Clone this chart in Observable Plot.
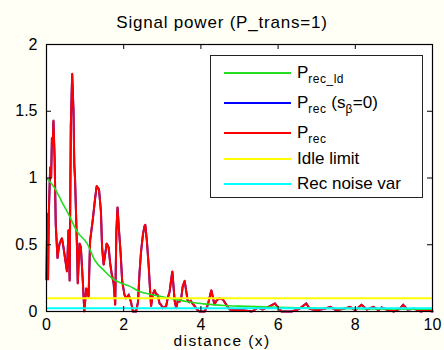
<!DOCTYPE html>
<html>
<head>
<meta charset="utf-8">
<script src="https://cdn.jsdelivr.net/npm/d3@7"></script>
<script src="https://cdn.jsdelivr.net/npm/@observablehq/plot@0.6"></script>
<style>
  html, body { margin: 0; padding: 0; background: #fffff6; }
  #wrap { position: relative; width: 444px; height: 350px; font-family: "Liberation Sans", Arial, sans-serif; color: #000; }
  #wrap svg { position: absolute; left: 0; top: 0; }
  .title { position: absolute; left: 0; width: 444px; top: 13px; text-align: center; font-size: 17px; line-height: 20px; letter-spacing: 0.8px; }
  .xlabel { position: absolute; left: 0; width: 444px; top: 334px; text-align: center; font-size: 15.5px; line-height: 14px; letter-spacing: 1.4px; }
  .legend { position: absolute; left: 210px; top: 55px; width: 213px; height: 143px; box-sizing: border-box; border: 1px solid #222; background: #fff; }
  .legend .ln { position: absolute; left: 13px; width: 67px; height: 0; }
  .legend .tx { position: absolute; left: 86px; font-size: 17px; line-height: 20px; white-space: nowrap; }
  .legend sub { font-size: 12px; line-height: 0; vertical-align: -5px; letter-spacing: 0.5px; }
</style>
</head>
<body>
<div id="wrap"></div>
<script>
// ---- data ----
const titleText = "Signal power (P_trans=1)";
const xLabel = "distance (x)";
const xTicks = [0, 2, 4, 6, 8, 10];
const yTicks = [0, 0.5, 1, 1.5, 2];

// P_rec (red) and P_rec (s_beta = 0) (blue, hidden under red almost everywhere)
const distance = [0, 0.02, 0.04, 0.06, 0.095, 0.12, 0.14, 0.16, 0.18, 0.21, 0.24, 0.285, 0.31, 0.34, 0.40, 0.44, 0.48, 0.50, 0.53, 0.57, 0.60, 0.63, 0.665, 0.70, 0.72, 0.74, 0.79, 0.81, 0.855, 0.89, 0.94, 0.98, 1.03, 1.09, 1.13, 1.20, 1.26, 1.30, 1.36, 1.41, 1.44, 1.48, 1.52, 1.56, 1.61, 1.65, 1.69, 1.74, 1.78, 1.81, 1.84, 1.88, 1.92, 1.96, 2.02, 2.06, 2.13, 2.19, 2.24, 2.32, 2.37, 2.41, 2.45, 2.50, 2.54, 2.56, 2.60, 2.65, 2.69, 2.71, 2.75, 2.80, 2.84, 2.88, 2.93, 2.97, 3.01, 3.10, 3.14, 3.19, 3.23, 3.26, 3.29, 3.32, 3.36, 3.40, 3.45, 3.49, 3.53, 3.58, 3.62, 3.66, 3.70, 3.74, 3.78, 3.84, 3.90, 3.96, 4.10, 4.18, 4.27, 4.30, 4.35, 4.40, 4.48, 4.57, 4.66, 4.75, 4.90, 5.10, 5.32, 5.49, 5.60, 5.79, 5.92, 6.00, 6.09, 6.35, 6.55, 6.73, 6.82, 7.00, 7.20, 7.35, 7.50, 7.70, 7.86, 8.00, 8.16, 8.30, 8.47, 8.60, 8.68, 8.85, 9.00, 9.15, 9.24, 9.35, 9.54, 9.70, 9.85, 10.0];
const pRec = [0.24, 0.73, 0.24, 0.73, 1.08, 1.00, 1.30, 1.25, 1.43, 1.15, 0.65, 0.40, 0.46, 0.51, 0.55, 0.48, 0.40, 0.36, 0.30, 0.61, 0.23, 1.39, 1.78, 1.50, 1.10, 0.99, 0.48, 0.21, 0.51, 0.48, 0.23, 0.00, 0.175, 0.11, 0.53, 0.69, 0.85, 0.94, 0.915, 0.75, 0.48, 0.35, 0.43, 0.51, 0.48, 0.36, 0.28, 0.21, 0.05, 0.60, 0.78, 0.60, 0.44, 0.23, 0.125, 0.10, 0.125, 0.07, 0.00, 0.00, 0.07, 0.29, 0.45, 0.58, 0.64, 0.65, 0.53, 0.33, 0.125, 0.04, 0.125, 0.16, 0.13, 0.125, 0.06, 0.05, 0.025, 0.04, 0.10, 0.15, 0.24, 0.30, 0.19, 0.08, 0.025, 0.08, 0.075, 0.10, 0.19, 0.23, 0.15, 0.08, 0.07, 0.08, 0.06, 0.04, 0.015, 0.00, 0.00, 0.05, 0.16, 0.12, 0.05, 0.08, 0.10, 0.09, 0.05, 0.015, 0.01, 0.01, 0.00, 0.03, 0.015, 0.04, 0.06, 0.03, 0.00, 0.00, 0.02, 0.06, 0.02, 0.01, 0.02, 0.035, 0.01, 0.02, 0.035, 0.01, 0.05, 0.015, 0.035, 0.01, 0.03, 0.01, 0.00, 0.02, 0.05, 0.015, 0.02, 0.00, 0.01, 0.00];
const pRecS0 = pRec.slice();

// P_rec_ld (green)
const distanceLd = [0, 0.2, 0.4, 0.57, 0.79, 1.05, 1.26, 1.48, 1.74, 1.96, 2.15, 2.41, 2.75, 3.19, 3.62, 4.14, 4.6, 5.0, 5.6, 6.5, 7.5, 8.5, 10];
const pRecLd = [1.00, 0.93, 0.82, 0.73, 0.60, 0.51, 0.38, 0.31, 0.24, 0.21, 0.19, 0.15, 0.125, 0.10, 0.075, 0.055, 0.045, 0.04, 0.035, 0.028, 0.022, 0.02, 0.018];

const idleLimit = 0.1;
const recNoiseVar = 0.025;

const legendLabels = [
  "P<sub>rec_ld</sub>",
  "P<sub>rec</sub> (s<sub>β</sub>=0)",
  "P<sub>rec</sub>",
  "Idle limit",
  "Rec noise var"
];
const legendColors = ["#22dd22", "#0000ff", "#ff0000", "#ffff00", "#00ffff"];

// ---- chart ----
const W = 444, H = 350, mL = 46, mR = 12, mT = 44, mB = 39;
const plotW = W - mL - mR, plotH = H - mT - mB, tk = 5;
const idx = d3.range(distance.length);
const idxLd = d3.range(distanceLd.length);

const chart = Plot.plot({
  width: W, height: H,
  marginLeft: mL, marginRight: mR, marginTop: mT, marginBottom: mB,
  style: { background: "transparent", fontFamily: "'Liberation Sans', Arial, sans-serif", fontSize: "16px", color: "#000", overflow: "visible" },
  x: { domain: [0, 10] },
  y: { domain: [0, 2] },
  marks: [
    Plot.frame({ fill: "white", stroke: null }),
    Plot.line(idx, { x: i => distance[i], y: i => pRecS0[i], stroke: "#0000ff", strokeWidth: 2, strokeLinejoin: "miter", strokeMiterlimit: 2.5 }),
    Plot.line(idx, { x: i => distance[i], y: i => pRec[i], stroke: "#ff0000", strokeWidth: 2 }),
    Plot.line(idxLd, { x: i => distanceLd[i], y: i => pRecLd[i], stroke: "#22dd22", strokeWidth: 1.6, curve: "monotone-x" }),
    Plot.ruleY([idleLimit], { stroke: "#ffff00", strokeWidth: 2 }),
    Plot.ruleY([recNoiseVar], { stroke: "#00ffff", strokeWidth: 2 }),
    Plot.ruleX(xTicks, { x: d => d, insetTop: plotH - tk, stroke: "#000" }),
    Plot.ruleX(xTicks, { x: d => d, insetBottom: plotH - tk, stroke: "#000" }),
    Plot.ruleY(yTicks, { y: d => d, insetRight: plotW - tk, stroke: "#000" }),
    Plot.ruleY(yTicks, { y: d => d, insetLeft: plotW - tk, stroke: "#000" }),
    Plot.frame({ stroke: "#000", strokeWidth: 1.2 }),
    Plot.axisX(xTicks, { tickSize: 0, tickPadding: 7, label: null, tickFormat: d => String(d) }),
    Plot.axisY(yTicks, { tickSize: 0, tickPadding: 9, label: null, tickFormat: d => String(d) })
  ]
});

const wrap = document.getElementById("wrap");
wrap.appendChild(chart);

const t = document.createElement("div");
t.className = "title"; t.textContent = titleText; wrap.appendChild(t);
const xl = document.createElement("div");
xl.className = "xlabel"; xl.textContent = xLabel; wrap.appendChild(xl);

const lg = document.createElement("div");
lg.className = "legend";
const lineYs = [72, 102, 132, 158, 183];
legendLabels.forEach((lab, i) => {
  const ly = lineYs[i] - 55;
  const ln = document.createElement("div");
  ln.className = "ln";
  ln.style.top = (ly - 1) + "px";
  ln.style.borderTop = "2px solid " + legendColors[i];
  lg.appendChild(ln);
  const tx = document.createElement("div");
  tx.className = "tx";
  tx.style.top = (ly - 10.5) + "px";
  tx.innerHTML = lab;
  lg.appendChild(tx);
});
wrap.appendChild(lg);
</script>
</body>
</html>
